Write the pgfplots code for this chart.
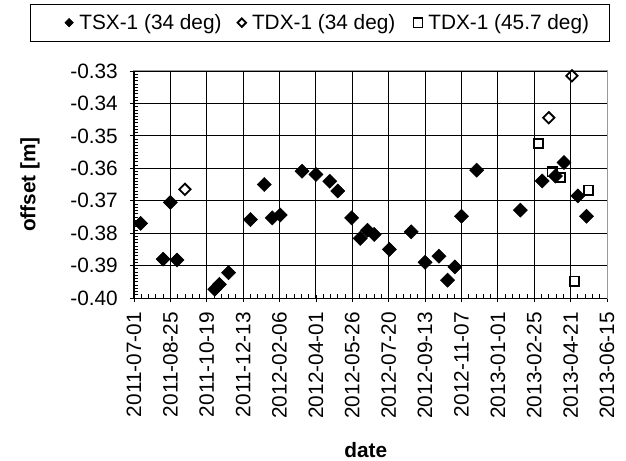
\documentclass[border=0pt]{standalone}
\usepackage{pgfplots}
\pgfplotsset{compat=1.18}
\usepackage{fontspec}
\setmainfont{Liberation Sans}
\definecolor{framegray}{gray}{0.6}
\begin{document}
\begin{tikzpicture}[font=\fontsize{20.8bp}{24bp}\selectfont]
\path[use as bounding box] (-134bp,-163bp) rectangle (492bp,298bp);
\begin{axis}[
  scale only axis,
  width=473bp, height=227bp,
  xmin=0, xmax=715, ymin=-0.40, ymax=-0.33,
  clip=false,
  axis line style={draw=framegray, line width=1bp},
  xtick pos=bottom, ytick pos=left,
  xtick={0,55,...,715},
  xticklabels={2011-07-01,2011-08-25,2011-10-19,2011-12-13,2012-02-06,2012-04-01,2012-05-26,2012-07-20,2012-09-13,2012-11-07,2013-01-01,2013-02-25,2013-04-21,2013-06-15},
  minor x tick num=4,
  ytick={-0.40,-0.39,...,-0.325},
  minor y tick num=9,
  yticklabel style={/pgf/number format/fixed, /pgf/number format/fixed zerofill, /pgf/number format/precision=2, /pgf/number format/assume math mode=true, /tikz/inner sep=0pt, /tikz/xshift=-16bp},
  xticklabel style={/tikz/rotate=90, /tikz/anchor=east, /tikz/inner sep=0pt, /tikz/xshift=-14bp},
  tick align=inside,
  major tick length=7bp,
  minor tick length=4bp,
  every major x tick/.append style={yshift=-4bp},
  every major y tick/.append style={xshift=-4bp},
  tick style={black, line width=0.8bp},
  grid=major,
  major grid style={black, line width=0.9bp},
  xlabel={\bfseries date},
  ylabel={\bfseries offset [m]},
  xlabel style={at={(axis description cs:0.49,-0.67)}, anchor=center},
  ylabel style={at={(axis description cs:-0.22,0.5)}, anchor=center},
  legend columns=3,
  legend style={at={(axis description cs:0.393,1.295)}, anchor=north,
    draw=black, line width=0.8bp, inner xsep=18bp, inner ysep=8bp,
    font=\fontsize{20.8bp}{24bp}\selectfont,
    /tikz/every even column/.append style={column sep=14bp},
    /tikz/every odd column/.append style={column sep=4bp},
    cells={anchor=west}},
  legend image code/.code={\draw[#1, mark size=3bp] plot coordinates {(0bp,0bp)};},
]
\addplot[only marks, mark=square*, mark size=5.0bp, mark options={rotate=45, fill=black, draw=black, line width=0.5bp},
  legend image code/.code={\path (-20bp,0bp); \draw[mark=square*, mark size=3bp, mark options={rotate=45, fill=black, draw=black, line width=0.5bp}] plot coordinates {(0bp,0bp)};}] coordinates {
(10,-0.3770) (44,-0.3880) (55,-0.3705) (65,-0.3883)
(122,-0.3973) (129,-0.3958) (143,-0.3922) (176,-0.3758)
(197,-0.3650) (209,-0.3753) (221,-0.3744) (254,-0.3609)
(275,-0.3619) (296,-0.3640) (308,-0.3670) (329,-0.3753)
(342,-0.3816) (353,-0.3791) (363,-0.3804) (386,-0.3850)
(419,-0.3796) (440,-0.3890) (461,-0.3871) (474,-0.3945)
(485,-0.3904) (495,-0.3748) (518,-0.3606) (584,-0.3729)
(617,-0.3639) (637,-0.3624) (650,-0.3582) (671,-0.3685)
(684,-0.3748)
};
\addlegendentry{TSX-1 (34 deg)}
\addplot[only marks, mark=square, mark size=4.0bp, mark options={rotate=45, fill=white, draw=black, line width=1.8bp}] coordinates {
(77,-0.3665) (627,-0.3444) (662,-0.3315)
};
\addlegendentry{TDX-1 (34 deg)}
\addplot[only marks, mark=square, mark size=4.6bp, mark options={fill=white, draw=black, line width=1.8bp},
  legend image code/.code={\path (-6bp,0bp); \draw[mark=square, mark size=4.6bp, mark options={fill=white, draw=black, line width=1.3bp}] plot coordinates {(0bp,0bp)};}] coordinates {
(611,-0.3523) (632,-0.3611) (644,-0.3629) (666,-0.3948) (687,-0.3667)
};
\addlegendentry{TDX-1 (45.7 deg)\hspace{14bp}}
\draw[black, line width=1bp] (rel axis cs:0,1) -- (rel axis cs:0,0) -- (rel axis cs:1,0);
\end{axis}
\end{tikzpicture}
\end{document}
